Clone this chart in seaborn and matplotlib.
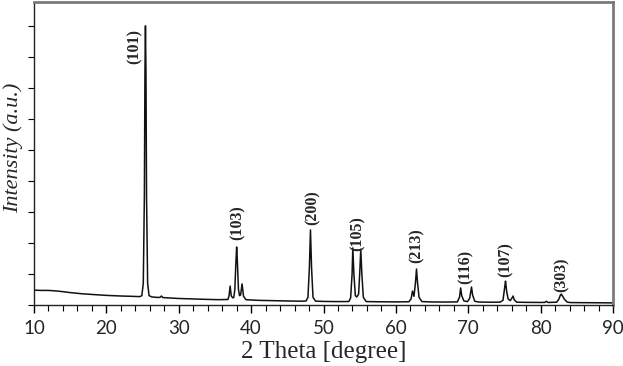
import matplotlib
matplotlib.use("Agg")
import matplotlib.pyplot as plt
import seaborn as sns
import pandas as pd
from matplotlib.ticker import MultipleLocator

# XRD pattern points (2 theta, intensity in a.u.)
two_theta = [10.0, 11.0, 12.0, 13.0, 14.0, 15.0, 16.5, 18.0, 20.0, 22.0, 23.5, 24.6, 24.9, 25.1, 25.25,
             25.33, 25.4, 25.47, 25.55, 25.7, 25.9, 26.3, 27.0, 27.4, 27.6, 27.8, 28.5, 30.0, 32.0,
             34.0, 35.5, 36.8, 36.95, 37.1, 37.25, 37.45, 37.6, 37.75, 37.9, 38.0, 38.1, 38.25,
             38.4, 38.55, 38.75, 38.95, 39.3, 41.0, 43.0, 45.0, 47.0, 47.6, 47.85, 48.05, 48.2,
             48.35, 48.55, 48.9, 50.0, 52.0, 53.5, 53.75, 53.95, 54.05, 54.2, 54.4, 54.6, 54.85,
             55.0, 55.15, 55.3, 55.5, 55.9, 57.5, 60.0, 61.8, 62.1, 62.3, 62.5, 62.7, 62.85, 63.0,
             63.2, 63.6, 65.0, 67.0, 68.5, 68.8, 68.95, 69.1, 69.4, 69.9, 70.2, 70.45, 70.6, 70.9,
             71.5, 73.0, 74.4, 74.8, 75.05, 75.15, 75.3, 75.5, 75.8, 76.05, 76.2, 76.35, 76.7,
             78.0, 80.0, 80.6, 80.8, 81.0, 82.2, 82.5, 82.75, 82.85, 83.0, 83.3, 83.7, 84.2, 86.0,
             88.0, 90.0]
intensity = [480, 470, 470, 455, 430, 400, 365, 340, 310, 290, 280, 270, 300, 700, 3500,
             7500, 9000, 7500, 3500, 700, 300, 260, 245, 245, 290, 240, 230, 210, 195,
             180, 172, 178, 300, 610, 300, 230, 240, 500, 1400, 1870, 1400, 500,
             300, 330, 680, 280, 170, 150, 140, 130, 122, 130, 250, 1200, 2420,
             1200, 250, 125, 115, 110, 112, 230, 1000, 1840, 1000, 300, 260, 350,
             1000, 1800, 1000, 250, 110, 105, 100, 105, 200, 450, 280, 700, 1160, 700,
             250, 110, 98, 95, 100, 260, 550, 300, 130, 110, 220, 580, 320, 120,
             95, 90, 92, 150, 600, 770, 450, 200, 140, 230, 290, 170, 90,
             85, 82, 85, 120, 82, 90, 180, 330, 350, 300, 180, 90, 78, 75,
             72, 68]

# Peak labels (Miller indices)
hkl_labels = ["(101)", "(103)", "(200)", "(105)", "(213)", "(116)", "(107)", "(303)"]
hkl_x = [23.95, 38.2, 48.5, 54.7, 62.85, 69.6, 75.2, 82.9]
hkl_y = [8320, 2645, 3130, 2300, 1900, 1225, 1450, 970]

# x tick values and labels
x_ticks = [10, 20, 30, 40, 50, 60, 70, 80, 90]
x_tick_labels = ["10", "20", "30", "40", "50", "60", "70", "80", "90"]

df = pd.DataFrame({"two_theta": two_theta, "intensity": intensity})

sns.set_style("white")
plt.rcParams["font.family"] = ["Liberation Serif", "DejaVu Serif"]

fig = plt.figure(figsize=(6.23, 3.66), dpi=100)
ax = fig.add_axes([34 / 623, 61 / 366, 579 / 623, 303 / 366])

sns.lineplot(data=df, x="two_theta", y="intensity", ax=ax, color="#111111",
             linewidth=1.1, estimator=None, sort=False)

for lab, lx, ly in zip(hkl_labels, hkl_x, hkl_y):
    ax.text(lx, ly, lab, rotation=90, ha="center", va="center",
            fontsize=11.5, fontweight="bold", family="Liberation Serif")

ax.set_xlim(10, 90)
ax.set_ylim(0, 9770)
ax.set_xticks(x_ticks, x_tick_labels, fontsize=13.5, family=["Lato", "DejaVu Sans"])
ax.xaxis.set_minor_locator(MultipleLocator(2))
ax.yaxis.set_major_locator(MultipleLocator(1000))
ax.set_yticklabels([])
ax.tick_params(axis="x", which="major", direction="out", length=6, width=1,
               color="black", pad=5, bottom=True)
ax.tick_params(axis="x", which="minor", direction="out", length=4, width=0.8,
               color="black", bottom=True)
ax.tick_params(axis="y", which="major", direction="out", length=4, width=0.8,
               color="black", left=True)

for side in ["left", "bottom"]:
    ax.spines[side].set_color("#222222")
    ax.spines[side].set_linewidth(1.0)
for side in ["top", "right"]:
    ax.spines[side].set_color("#7a7a7a")
    ax.spines[side].set_linewidth(2.0)

ax.set_xlabel("2 Theta [degree]", fontsize=18)
ax.set_ylabel("Intensity (a.u.)", fontsize=16, style="italic")
ax.xaxis.set_label_coords(0.5, -0.155)
ax.yaxis.set_label_coords(-0.036, 0.52)
ax.xaxis.label.set_va("center")
ax.yaxis.label.set_va("center")

fig.savefig("out.png", dpi=100)
